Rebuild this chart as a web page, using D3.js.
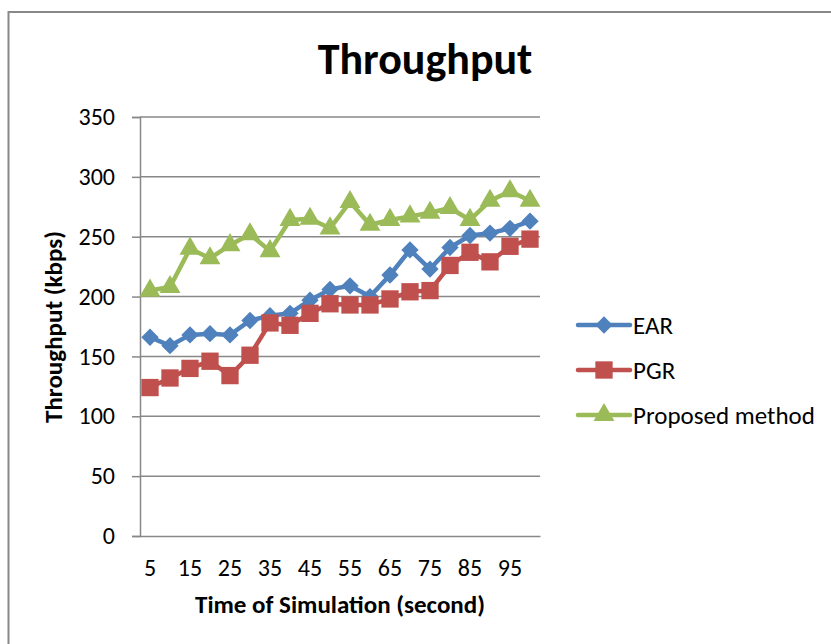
<!DOCTYPE html>
<html>
<head>
<meta charset="utf-8">
<script src="https://cdn.jsdelivr.net/npm/d3@7"></script>
<style>
  body { margin: 0; background: #fff; }
  text { font-family: Calibri, Carlito, Lato, sans-serif; fill: #000; }
</style>
</head>
<body>
<div id="chart"></div>
<script>
var times = [5, 10, 15, 20, 25, 30, 35, 40, 45, 50, 55, 60, 65, 70, 75, 80, 85, 90, 95, 100];
var earValues = [166, 159, 168, 169, 168, 180, 184, 186, 197, 206, 209, 200, 218, 239, 223, 241, 251, 253, 257, 263];
var pgrValues = [124, 132, 140, 146, 134, 151, 178, 176, 186, 194, 193, 193, 198, 204, 205, 226, 237, 229, 242, 248];
var proposedValues = [205, 208, 240, 232, 243, 252, 238, 264, 265, 257, 279, 260, 264, 267, 270, 274, 264, 280, 288, 280];
var yTicks = [0, 50, 100, 150, 200, 250, 300, 350];

var width = 831;
var height = 644;
var plotLeft = 140, plotRight = 540, plotTop = 117, plotBottom = 536;

var series = [
    {name: 'EAR', values: earValues, color: '#4F81BD', symbol: 'diamond'},
    {name: 'PGR', values: pgrValues, color: '#C0504D', symbol: 'square'},
    {name: 'Proposed method', values: proposedValues, color: '#9BBB59', symbol: 'triangle'}
];

var svg = d3.select('#chart')
    .append('svg')
    .attr('width', width)
    .attr('height', height);

// chart border
svg.append('rect')
    .attr('x', 8.5)
    .attr('y', 12)
    .attr('width', 840)
    .attr('height', 700)
    .attr('fill', 'none')
    .attr('stroke', '#888')
    .attr('stroke-width', 2);

var xScale = d3.scaleBand()
    .domain(times)
    .range([plotLeft, plotRight]);

var yScale = d3.scaleLinear()
    .domain([0, 350])
    .range([plotBottom, plotTop]);

// gridlines
svg.append('g')
    .selectAll('line')
    .data(yTicks.slice(1))
    .enter()
    .append('line')
    .attr('x1', plotLeft)
    .attr('x2', plotRight)
    .attr('y1', function (d) { return yScale(d); })
    .attr('y2', function (d) { return yScale(d); })
    .attr('stroke', '#888')
    .attr('stroke-width', 1.5);

var yAxis = d3.axisLeft(yScale)
    .tickValues(yTicks)
    .tickSize(8)
    .tickPadding(17);

var yg = svg.append('g')
    .attr('transform', 'translate(' + plotLeft + ', 0)')
    .call(yAxis);
yg.select('.domain').attr('stroke', '#888').attr('stroke-width', 1.5);
yg.selectAll('.tick line').attr('stroke', '#888').attr('stroke-width', 1.5);
yg.selectAll('.tick text').style('font-size', '24px');

var xAxis = d3.axisBottom(xScale)
    .tickValues(times.filter(function (d, i) { return i % 2 === 0; }))
    .tickSize(0)
    .tickPadding(23);

var xg = svg.append('g')
    .attr('transform', 'translate(0, ' + plotBottom + ')')
    .call(xAxis);
xg.select('.domain').attr('stroke', '#888').attr('stroke-width', 1.5);
xg.selectAll('.tick text').style('font-size', '24px');

var line = d3.line()
    .x(function (d, i) { return xScale(times[i]) + xScale.bandwidth() / 2; })
    .y(function (d) { return yScale(d); });

var symbolFor = function (name) {
    if (name === 'diamond') return d3.symbol().type(d3.symbolSquare).size(150)();
    if (name === 'square') return d3.symbol().type(d3.symbolSquare).size(300)();
    return d3.symbol().type(d3.symbolTriangle).size(190)();
};

series.forEach(function (s) {
    svg.append('path')
        .datum(s.values)
        .attr('d', line)
        .attr('fill', 'none')
        .attr('stroke', s.color)
        .attr('stroke-width', 4.5)
        .attr('stroke-linejoin', 'round');

    svg.append('g')
        .selectAll('path')
        .data(s.values)
        .enter()
        .append('path')
        .attr('d', symbolFor(s.symbol))
        .attr('transform', function (d, i) {
            var t = 'translate(' + (xScale(times[i]) + xScale.bandwidth() / 2) + ',' + yScale(d) + ')';
            return s.symbol === 'diamond' ? t + ' rotate(45)' : t;
        })
        .attr('fill', s.color);
});

// legend
var legend = svg.append('g');
series.forEach(function (s, i) {
    var y = 325 + i * 45;
    legend.append('line')
        .attr('x1', 578)
        .attr('x2', 630)
        .attr('y1', y)
        .attr('y2', y)
        .attr('stroke', s.color)
        .attr('stroke-width', 4.5)
        .attr('stroke-linecap', 'round');
    legend.append('path')
        .attr('d', symbolFor(s.symbol))
        .attr('transform', 'translate(604,' + y + ')' + (s.symbol === 'diamond' ? ' rotate(45)' : ''))
        .attr('fill', s.color);
    legend.append('text')
        .attr('x', 633)
        .attr('y', y)
        .attr('dy', '0.35em')
        .style('font-size', '25px')
        .text(s.name);
});

svg.append('text')
    .attr('x', 425)
    .attr('y', 74)
    .style('text-anchor', 'middle')
    .style('font-size', '44px')
    .style('font-weight', 'bold')
    .text('Throughput');

svg.append('text')
    .attr('x', 340)
    .attr('y', 613)
    .style('text-anchor', 'middle')
    .style('font-size', '25px')
    .style('font-weight', 'bold')
    .text('Time of Simulation (second)');

svg.append('text')
    .attr('transform', 'rotate(-90)')
    .attr('x', -327)
    .attr('y', 53)
    .attr('dy', '0.35em')
    .style('text-anchor', 'middle')
    .style('font-size', '25px')
    .style('font-weight', 'bold')
    .text('Throughput (kbps)');
</script>
</body>
</html>
